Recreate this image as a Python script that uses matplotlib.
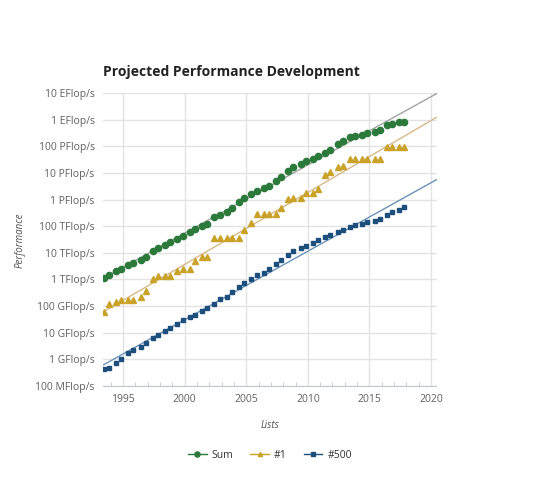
import numpy as np
import matplotlib
matplotlib.use('Agg')
import matplotlib.pyplot as plt
from matplotlib.lines import Line2D

plt.rcParams['font.family'] = ['Open Sans', 'DejaVu Sans']

# TOP500 lists: June and November of each year
list_years = list(range(1993, 2018))
list_months = [6, 11]

# performance in GFlop/s, one value per list
sum_gflops = [1130, 1490, 2100, 2500, 3500, 4100, 5200, 7200, 11500, 15100,
              20400, 24500, 33100, 43700, 58900, 79400, 105000, 123000, 214000, 269000,
              347000, 501000, 776000, 1100000, 1620000, 2140000, 2690000, 3310000, 5010000, 6760000,
              12000000, 17000000, 21400000, 28200000, 34700000, 43700000, 57500000, 70800000, 120000000, 158000000,
              224000000, 245000000, 269000000, 302000000, 355000000, 407000000, 617000000, 692000000, 813000000, 851000000]
first_gflops = [59.7, 124, 143.4, 170, 170, 170, 220.4, 368.2, 1068, 1338,
                1338, 1338, 2121, 2379, 2379, 4938, 7226, 7226, 35860, 35860,
                35860, 35860, 35860, 70720, 136800, 280600, 280600, 280600, 280600, 478200,
                1026000, 1105000, 1105000, 1759000, 1759000, 2566000, 8162000, 10510000, 16320000, 17590000,
                33860000, 33860000, 33860000, 33860000, 33860000, 33860000, 93010000, 93010000, 93010000, 93010000]
last_gflops = [0.42, 0.47, 0.75, 1.0, 1.7, 2.2, 2.9, 4.1, 6.6, 8.4,
               11.8, 14.8, 21.7, 29, 38, 48, 63, 84, 122, 178,
               215, 344, 540, 760, 1050, 1480, 1820, 2500, 3700, 5400,
               8300, 11400, 15500, 18000, 23000, 30000, 40000, 48000, 58000, 70000,
               91000, 110000, 126000, 145000, 155000, 190000, 270000, 330000, 417000, 537000]

series_names = ['Sum', '#1', '#500']
marker_colors = ['#2b7a3b', '#c9a227', '#1d4f7c']
trend_colors = ['#a0a4a0', '#d8b98a', '#6b93b8']
markers = ['o', '^', 's']
marker_sizes = [4.5, 3.8, 3.2]

y_tick_labels = ['100 MFlop/s', '1 GFlop/s', '10 GFlop/s', '100 GFlop/s', '1 TFlop/s',
                 '10 TFlop/s', '100 TFlop/s', '1 PFlop/s', '10 PFlop/s', '100 PFlop/s',
                 '1 EFlop/s', '10 EFlop/s']
trend_end = 2020.45

dates = np.array([y + (m - 1) / 12 for y in list_years for m in list_months])

fig = plt.figure(figsize=(5.4, 4.8), dpi=100)
ax = fig.add_axes([103 / 540, 1 - 386 / 480, 333.5 / 540, 293 / 480])

for vals, name, mc, tc, mk, ms in zip([sum_gflops, first_gflops, last_gflops], series_names,
                                       marker_colors, trend_colors, markers, marker_sizes):
    vals = np.array(vals, dtype=float)
    # projection: straight line fitted in log space
    k, b = np.polyfit(dates, np.log10(vals), 1)
    tx = np.array([dates[0], trend_end])
    ax.plot(tx, 10 ** (k * tx + b), color=tc, lw=1.0, zorder=2)
    ax.plot(dates, vals, linestyle='none', marker=mk, markersize=ms, color=mc,
            markeredgecolor=mc, zorder=3)

ax.set_yscale('log')
ax.set_ylim(0.1, 1e10)
ax.set_xlim(dates[0] - 0.05, trend_end)
ax.set_yticks([10.0 ** e for e in range(-1, 11)])
ax.set_yticklabels(y_tick_labels)
ax.yaxis.set_minor_locator(matplotlib.ticker.NullLocator())
ax.set_xticks(range(1995, 2021, 5))
ax.set_xticks(range(1994, 2021), minor=True)
ax.grid(True, which='major', color='#e3e3e3', lw=1.0)
ax.set_axisbelow(True)
for s in ['top', 'right', 'left']:
    ax.spines[s].set_visible(False)
ax.spines['bottom'].set_color('#c0c8d0')
ax.tick_params(axis='y', length=0, pad=6, labelsize=7.5, labelcolor='#606060')
ax.tick_params(axis='x', which='major', length=0, pad=6, labelsize=7.5, labelcolor='#606060')
ax.tick_params(axis='x', which='minor', direction='in', length=3, color='#c0c8d0')

fig.text(20 / 540, 1 - 240 / 480, 'Performance', fontstyle='italic', fontsize=7,
         color='#505050', rotation=90, ha='center', va='center')
fig.text(270 / 540, 1 - 425 / 480, 'Lists', fontstyle='italic', fontsize=7,
         color='#505050', ha='center', va='center')
fig.text(103 / 540, 1 - 72 / 480, 'Projected Performance Development', fontsize=10,
         fontweight='bold', color='#222222', va='center', ha='left')

handles = [Line2D([0], [0], color=mc, marker=mk, markersize=ms - 0.8, lw=1.0)
           for mc, mk, ms in zip(marker_colors, markers, marker_sizes)]
fig.legend(handles, series_names, loc='center', bbox_to_anchor=(270 / 540, 1 - 455 / 480),
           ncol=3, frameon=False, fontsize=7.5, handlelength=1.8, handletextpad=0.5,
           columnspacing=1.6, labelcolor='#333333')

fig.savefig('out.png', dpi=100, facecolor='white')
